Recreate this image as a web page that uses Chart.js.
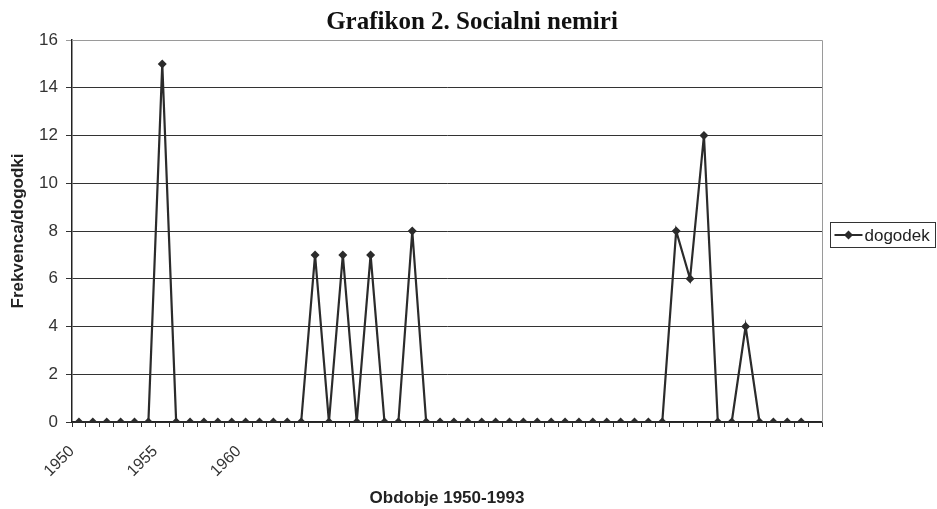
<!DOCTYPE html>
<html>
<head>
<meta charset="utf-8">
<script src="https://cdn.jsdelivr.net/npm/chart.js@4"></script>
<style>
  html, body { margin: 0; padding: 0; background: #fff; }
  #wrap { width: 937px; height: 509px; }
</style>
</head>
<body>
<div id="wrap"><canvas id="nemiriChart" width="937" height="509"></canvas></div>
<script>
  // tick labels along the period axis (only a few are printed)
  const tickLabels = [
    "1950", "", "", "", "", "", "1955", "", "", "", "", "", "1960", "", "", "", "", "", "",
    "", "", "", "", "", "", "", "", "", "", "", "", "", "", "", "", "", "", "",
    "", "", "", "", "", "", "", "", "", "", "", "", "", "", "", ""
  ];
  // number of events per period
  const dogodek = [
    0, 0, 0, 0, 0, 0, 15, 0, 0, 0, 0, 0, 0, 0, 0, 0, 0, 7, 0,
    7, 0, 7, 0, 0, 8, 0, 0, 0, 0, 0, 0, 0, 0, 0, 0, 0, 0, 0,
    0, 0, 0, 0, 0, 8, 6, 12, 0, 0, 4, 0, 0, 0, 0, null
  ];
  const yTicks = [0, 2, 4, 6, 8, 10, 12, 14, 16];

  const chartTitle = "Grafikon 2. Socialni nemiri";
  const xTitle = "Obdobje 1950-1993";
  const yTitle = "Frekvenca/dogodki";

  const lineColor = "#2b2b2b";
  const sans = "'Liberation Sans', Arial, sans-serif";

  // titles, legend box and grey frame drawn by hand
  const extras = {
    id: "extras",
    afterDraw(chart) {
      const c = chart.ctx;
      const a = chart.chartArea;
      c.save();
      c.strokeStyle = "#9a9a9a";
      c.lineWidth = 1;
      c.beginPath();
      c.moveTo(a.left, a.top + 0.5);
      c.lineTo(a.right + 0.5, a.top + 0.5);
      c.lineTo(a.right + 0.5, a.bottom);
      c.stroke();

      // main title
      c.fillStyle = "#111";
      c.font = "bold 25px 'Liberation Serif', 'DejaVu Serif', serif";
      c.textAlign = "center";
      c.textBaseline = "alphabetic";
      c.fillText(chartTitle, 472, 29);

      // axis titles
      c.fillStyle = "#222";
      c.font = "bold 17px " + sans;
      c.fillText(xTitle, (a.left + a.right) / 2, 503);
      c.save();
      c.translate(18, (a.top + a.bottom) / 2);
      c.rotate(-Math.PI / 2);
      c.textBaseline = "middle";
      c.fillText(yTitle, 0, 0);
      c.restore();

      // legend
      const bx = 830.5, by = 222.5, bw = 105, bh = 25;
      c.strokeStyle = "#333";
      c.lineWidth = 1;
      c.strokeRect(bx, by, bw, bh);
      const my = by + bh / 2;
      c.strokeStyle = lineColor;
      c.lineWidth = 2;
      c.beginPath();
      c.moveTo(bx + 4, my);
      c.lineTo(bx + 32, my);
      c.stroke();
      c.fillStyle = lineColor;
      c.beginPath();
      c.moveTo(bx + 18, my - 4.5);
      c.lineTo(bx + 22.5, my);
      c.lineTo(bx + 18, my + 4.5);
      c.lineTo(bx + 13.5, my);
      c.closePath();
      c.fill();
      c.font = "17px " + sans;
      c.fillStyle = "#222";
      c.textAlign = "left";
      c.textBaseline = "middle";
      c.fillText(chart.data.datasets[0].label, bx + 34, my + 1);
      c.restore();
    }
  };

  const ctx = document.getElementById("nemiriChart").getContext("2d");
  const nemiriChart = new Chart(ctx, {
    type: "line",
    data: {
      labels: tickLabels,
      datasets: [
        {
          label: "dogodek",
          data: dogodek,
          borderColor: lineColor,
          borderWidth: 2.2,
          backgroundColor: lineColor,
          pointStyle: "rectRot",
          pointRadius: 4.5,
          pointBackgroundColor: lineColor,
          pointBorderWidth: 0,
          tension: 0,
          spanGaps: false,
        },
      ],
    },
    options: {
      responsive: false,
      animation: false,
      layout: {
        padding: { left: 0, right: 115, top: 40, bottom: 0 },
      },
      scales: {
        x: {
          offset: true,
          afterFit(scale) {
            scale.height = 87;
          },
          grid: {
            offset: true,
            drawOnChartArea: false,
            drawTicks: true,
            tickLength: 5,
            color: "#333",
          },
          border: { color: "#222", width: 1.5 },
          ticks: {
            autoSkip: false,
            minRotation: 45,
            maxRotation: 45,
            labelOffset: -7,
            padding: 15,
            color: "#333",
            font: { family: sans, size: 16 },
          },
        },
        y: {
          min: 0,
          max: 16,
          afterFit(scale) {
            scale.width = 72;
          },
          afterBuildTicks(axis) {
            axis.ticks = yTicks.map((v) => ({ value: v }));
          },
          grid: {
            color: (c) => (c.tick && c.tick.value === 16 ? "#9a9a9a" : "#333"),
            tickLength: 6,
            lineWidth: 1,
          },
          border: { color: "#222", width: 1.5 },
          ticks: {
            padding: 8,
            color: "#333",
            font: { family: sans, size: 17 },
          },
        },
      },
      plugins: {
        legend: { display: false },
        tooltip: { enabled: false },
        title: { display: false },
      },
    },
    plugins: [extras],
  });
</script>
</body>
</html>
